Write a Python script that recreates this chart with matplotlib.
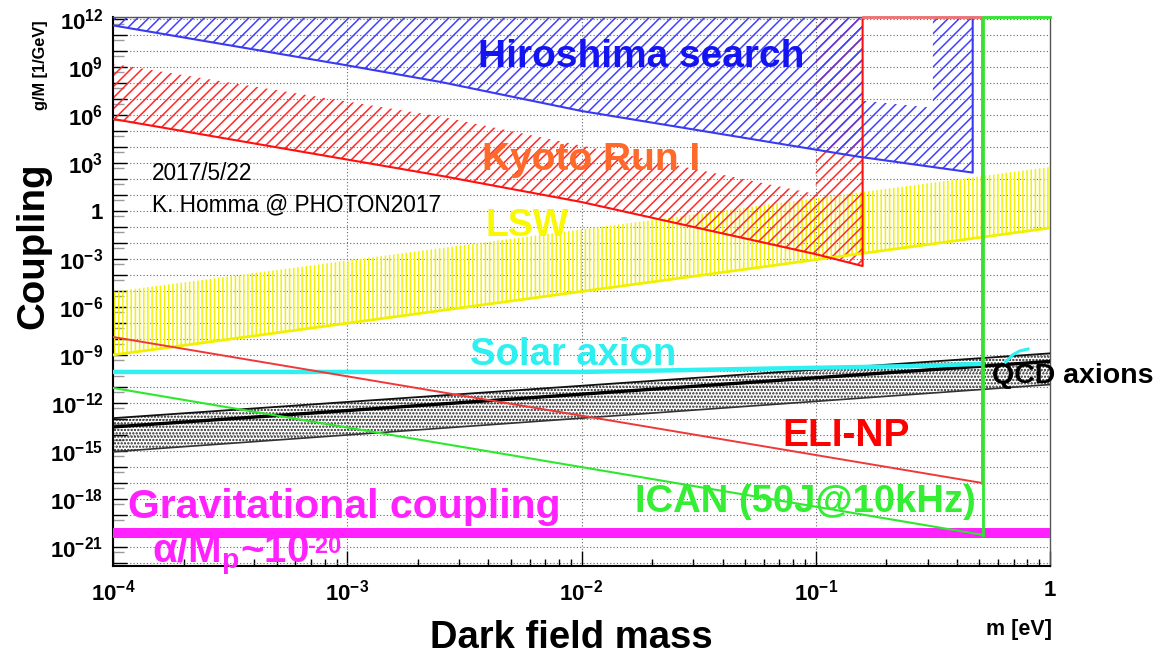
import numpy as np
import matplotlib
matplotlib.use('Agg')
import matplotlib.pyplot as plt
from matplotlib.ticker import FixedLocator, FuncFormatter, LogLocator, NullFormatter

plt.rcParams['font.family'] = ['Liberation Sans', 'DejaVu Sans']
plt.rcParams['mathtext.default'] = 'regular'
plt.rcParams['hatch.linewidth'] = 1.1

# ---------------- data (log10 of mass [eV] and coupling [1/GeV]) ----------------
TOP = 12.6  # log10 value beyond the frame top (fills are clipped)

hiro_logm = [-4.0, -3.0, -2.6, -2.0, -0.82, -0.33]
hiro_logg = [11.6, 9.1, 8.06, 6.25, 3.4, 2.4]
hiro_notch_logm = [-0.50, -0.80]
hiro_notch_logg = [6.45, 6.9]

kyoto_low_logm = [-4.0, -2.6, -2.0, -1.0, -0.80]
kyoto_low_logg = [5.75, 2.2, 0.56, -2.7, -3.44]
kyoto_up_logm = [-1.0, -2.6, -4.0]
kyoto_up_logg = [1.06, 5.9, 9.2]

lsw_logm = [-4.0, 0.0]
lsw_low_logg = [-9.0, -1.06]
lsw_up_logg = [-5.05, 2.75]

solar_logm = [-4.0, -2.0, -1.2, -0.6, -0.28]
solar_logg = [-10.06, -10.06, -9.85, -9.7, -9.55]
solar_hook_logm = [-0.19, -0.16, -0.13, -0.094]
solar_hook_logg = [-9.45, -9.0, -8.75, -8.63]

qcd_logm = [-4.0, 0.0]
qcd_up_logg = [-12.95, -8.9]
qcd_mid_logg = [-13.5, -9.4]
qcd_low_logg = [-15.05, -10.85]

eli_logm = [-4.0, -0.29]
eli_logg = [-7.875, -17.0]
eli_top_logm = [-0.80]

ican_logm = [-4.0, -0.285]
ican_logg = [-11.06, -20.25]
ican_top_logm = [0.0]

grav_band_logg = [-20.44, -19.8]

xtick_exp = [-4, -3, -2, -1, 0]
ytick_exp = list(range(-22, 13))

# ---------------- figure ----------------
W, H = 1164, 655
fig = plt.figure(figsize=(W / 100, H / 100), dpi=100)
ax = fig.add_axes([113 / W, 1 - 566 / H, (1050 - 113) / W, (566 - 17) / H])
ax.set_xscale('log')
ax.set_yscale('log')
ax.set_xlim(1e-4, 1)
ax.set_ylim(10 ** -22.19, 10 ** 12.125)

P = lambda a: 10 ** np.asarray(a, dtype=float)

# LSW (yellow vertical hatch)
ax.fill_between(P(lsw_logm), P(lsw_low_logg), P(lsw_up_logg), facecolor='none',
                edgecolor='#f2f200', hatch='||||', linewidth=0, zorder=2)
ax.plot(P(lsw_logm), P(lsw_low_logg), color='#f0f000', lw=2, zorder=3)

# Kyoto Run I (red hatch)
kx = kyoto_low_logm + [kyoto_low_logm[-1], kyoto_up_logm[0]] + kyoto_up_logm
ky = kyoto_low_logg + [TOP, TOP] + kyoto_up_logg
ax.fill(P(kx), P(ky), facecolor='none', edgecolor='#ff2a2a', hatch='///',
        linewidth=0, zorder=2)
ax.plot(P(kyoto_low_logm + [kyoto_low_logm[-1]]), P(kyoto_low_logg + [TOP]),
        color='#ff1010', lw=1.5, zorder=4)

# Hiroshima search (blue hatch with notch)
hx = hiro_logm + [hiro_logm[-1], hiro_notch_logm[0]] + hiro_notch_logm + \
     [hiro_notch_logm[-1], hiro_logm[0]]
hy = hiro_logg + [TOP, TOP] + hiro_notch_logg + [TOP, TOP]
ax.fill(P(hx), P(hy), facecolor='none', edgecolor='#4040ff', hatch='///',
        linewidth=0, zorder=2)
ax.plot(P(hiro_logm + [hiro_logm[-1]]), P(hiro_logg + [TOP]),
        color='#3a3aee', lw=1.5, zorder=4)

# QCD axion band
ax.fill_between(P(qcd_logm), P(qcd_low_logg), P(qcd_up_logg), facecolor='none',
                edgecolor='#222222', hatch='.....', linewidth=0, zorder=2)
ax.plot(P(qcd_logm), P(qcd_up_logg), color='#111111', lw=1.3, zorder=3)
ax.plot(P(qcd_logm), P(qcd_low_logg), color='#333333', lw=1.2, zorder=3)
ax.plot(P(qcd_logm), P(qcd_mid_logg), color='black', lw=2.4, zorder=3)

# Solar axion
ax.plot(P(solar_logm), P(solar_logg), color='#2ef2f2', lw=3.2, zorder=4,
        solid_capstyle='butt')
ax.plot(P(solar_hook_logm), P(solar_hook_logg), color='#2ef2f2', lw=2.2, zorder=4)

# ELI-NP
ax.plot(P(eli_logm), P(eli_logg), color='#f03838', lw=1.4, zorder=4)
ax.plot(P([eli_logm[-1], eli_logm[-1]] + eli_top_logm), P([eli_logg[-1], 12.125, 12.125]),
        color='#f07070', lw=2, zorder=4, clip_on=False)

# ICAN
ax.plot(P(ican_logm), P(ican_logg), color='#2ee82e', lw=1.5, zorder=4)
ax.plot(P([ican_logm[-1], ican_logm[-1]] + ican_top_logm), P([ican_logg[-1], 12.125, 12.125]),
        color='#2ee82e', lw=2, zorder=4, clip_on=False)

# Gravitational coupling band
ax.axhspan(P(grav_band_logg[0]), P(grav_band_logg[1]), color='#ff22ff', lw=0, zorder=3)

# ---------------- axes styling ----------------
ax.xaxis.set_major_locator(FixedLocator(P(xtick_exp)))
ax.xaxis.set_major_formatter(FuncFormatter(
    lambda v, p: '1' if round(np.log10(v)) == 0 else r'$10^{%d}$' % round(np.log10(v))))
ax.xaxis.set_minor_locator(LogLocator(base=10, subs=np.arange(2, 10), numticks=20))
ax.xaxis.set_minor_formatter(NullFormatter())

ax.yaxis.set_major_locator(FixedLocator(P(ytick_exp)))


def yfmt(v, p):
    e = int(round(np.log10(v)))
    if e % 3 or e < -21:
        return ''
    return '1' if e == 0 else r'$10^{%d}$' % e


ax.yaxis.set_major_formatter(FuncFormatter(yfmt))
ax.yaxis.set_minor_locator(LogLocator(base=10, subs=(5.0,), numticks=60))
ax.yaxis.set_minor_formatter(NullFormatter())

ax.tick_params(axis='both', which='both', direction='in', top=False, right=False)
ax.tick_params(axis='x', which='major', length=11, width=1, pad=10, labelsize=16)
ax.tick_params(axis='x', which='minor', length=5, width=1)
ax.tick_params(axis='y', which='major', length=10, width=1, pad=7, labelsize=16)
ax.tick_params(axis='y', which='minor', length=8, width=1, color='#999999')
for lab in ax.get_xticklabels() + ax.get_yticklabels():
    lab.set_fontweight('bold')

ax.grid(True, which='major', ls=(0, (1, 2)), color='#666666', lw=0.8, zorder=1)
ax.set_axisbelow(True)
for s in ['left', 'bottom']:
    ax.spines[s].set_linewidth(1.5)
for s in ['top', 'right']:
    ax.spines[s].set_linewidth(1.0)
    ax.spines[s].set_color('#555555')


# ---------------- texts ----------------
def T(x, y, s, **kw):
    fig.text(x / W, 1 - y / H, s, va='baseline', zorder=10, **kw)


T(478, 67, 'Hiroshima search', color='#1414f0', fontsize=28, fontweight='bold')
T(482, 170, 'Kyoto Run I', color='#ff6a2a', fontsize=28, fontweight='bold')
T(485, 236, 'LSW', color='#f8f800', fontsize=27, fontweight='bold')
T(470, 365, 'Solar axion', color='#2ef0f0', fontsize=27.5, fontweight='bold')
T(992, 383, 'QCD axions', color='black', fontsize=20.5, fontweight='bold')
T(782, 446, 'ELI-NP', color='#ff0000', fontsize=28, fontweight='bold')
T(635, 512, 'ICAN (50J@10kHz)', color='#33ee33', fontsize=27.5, fontweight='bold')
T(128, 518, 'Gravitational coupling', color='#ff22ff', fontsize=29.5, fontweight='bold')
T(152, 563, r'α/M$_{p}$~10', color='#ff22ff', fontsize=29, fontweight='bold')
T(307, 553, '-20', color='#ff22ff', fontsize=17, fontweight='bold')
T(152, 180, '2017/5/22', color='black', fontsize=16.3)
T(152, 211, 'K. Homma @ PHOTON2017', color='black', fontsize=16.3)
T(430, 648, 'Dark field mass', color='black', fontsize=27.5, fontweight='bold')
T(1052, 635, 'm [eV]', color='black', fontsize=15.5, fontweight='bold', ha='right')

fig.text(43 / W, 1 - 246 / H, 'Coupling', rotation=90, rotation_mode='anchor',
         ha='center', va='baseline', fontsize=27.7, fontweight='bold')
fig.text(45 / W, 1 - 65 / H, 'g/M [1/GeV]', rotation=90, rotation_mode='anchor',
         ha='center', va='baseline', fontsize=11.8, fontweight='bold')

fig.savefig('out.png', dpi=100)
